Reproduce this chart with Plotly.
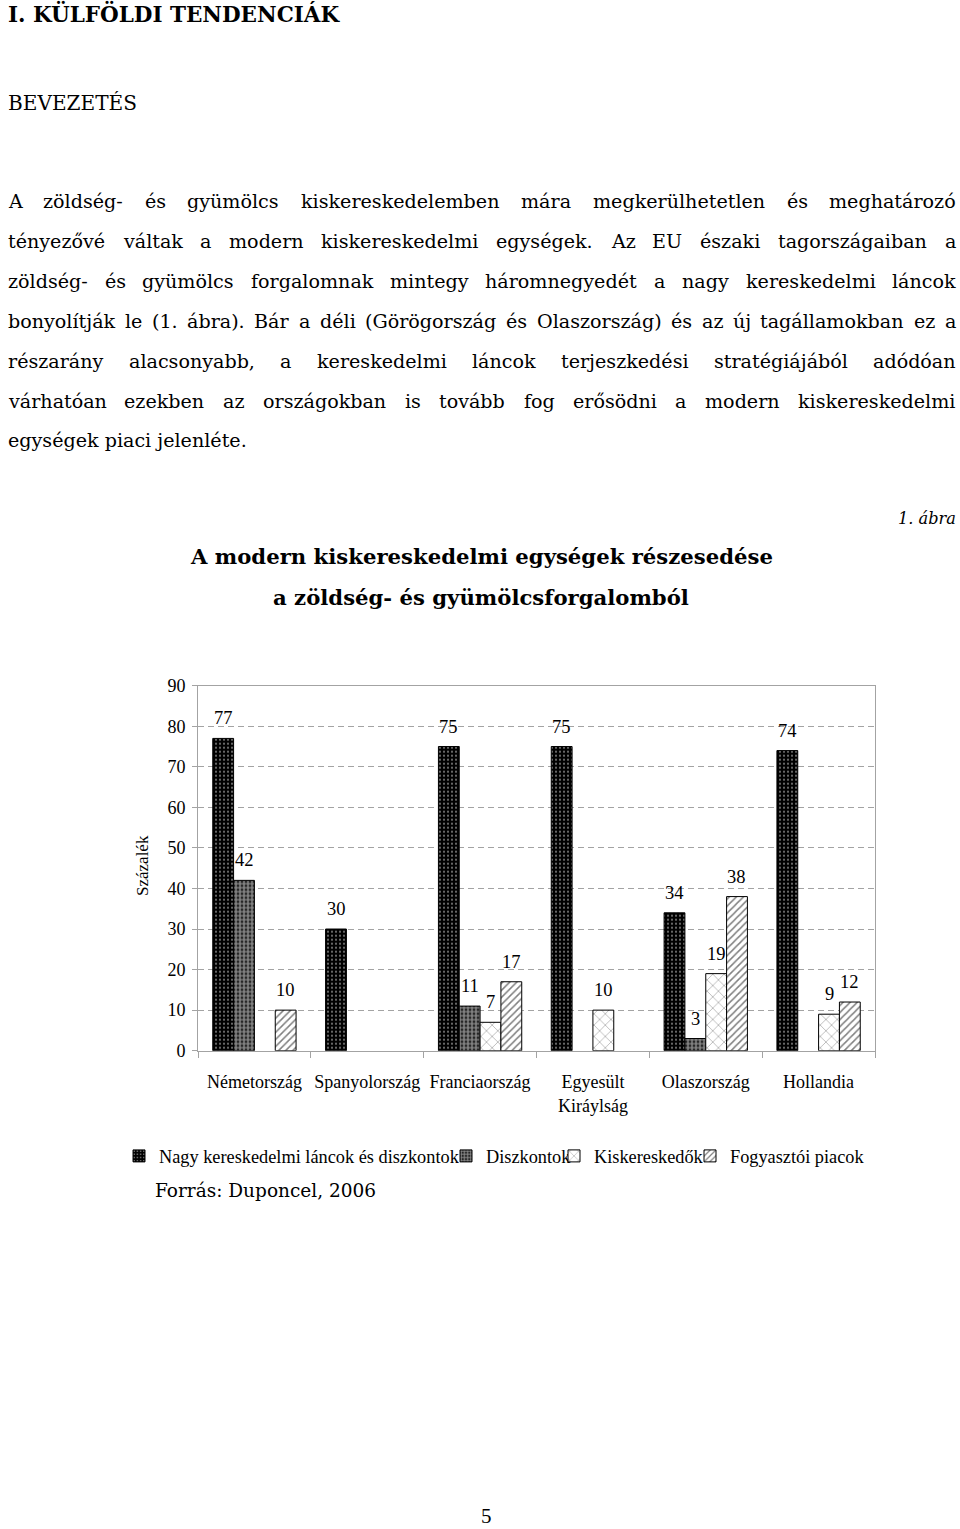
import os
import struct
import plotly.graph_objects as go

W, H = 960, 1529

# ---------------- data ----------------
categories = ["Németország", "Spanyolország", "Franciaország",
              "Egyesült<br>Kiráylság", "Olaszország", "Hollandia"]
series_names = ["Nagy kereskedelmi láncok és diszkontok", "Diszkontok",
                "Kiskereskedők", "Fogyasztói piacok"]
nagy_lancok = [77, 30, 75, 75, 34, 74]
diszkontok = [42, None, 11, None, 3, None]
kiskereskedok = [None, None, 7, 10, 19, 9]
fogyasztoi_piacok = [10, None, 17, None, 38, 12]
y_tick_values = [0, 10, 20, 30, 40, 50, 60, 70, 80, 90]

heading = "I. KÜLFÖLDI TENDENCIÁK"
subheading = "BEVEZETÉS"
body_lines = [
    "A zöldség- és gyümölcs kiskereskedelemben mára megkerülhetetlen és meghatározó",
    "tényezővé váltak a modern kiskereskedelmi egységek. Az EU északi tagországaiban a",
    "zöldség- és gyümölcs forgalomnak mintegy háromnegyedét a nagy kereskedelmi láncok",
    "bonyolítják le (1. ábra). Bár a déli (Görögország és Olaszország) és az új tagállamokban ez a",
    "részarány alacsonyabb, a kereskedelmi láncok terjeszkedési stratégiájából adódóan",
    "várhatóan ezekben az országokban is tovább fog erősödni a modern kiskereskedelmi",
    "egységek piaci jelenléte.",
]
justified = [True, True, True, True, True, True, False]
figure_no = "1. ábra"
chart_title = ["A modern kiskereskedelmi egységek részesedése",
               "a zöldség- és gyümölcsforgalomból"]
y_title = "Százalék"
source = "Forrás: Duponcel, 2006"
page_no = "5"


# ---------------- font metrics (for sizing / justification) ----------------
def find_font(fname):
    roots = ["/usr/share/fonts", "/usr/local/share/fonts",
             os.path.expanduser("~/.fonts"), os.path.expanduser("~/.local/share/fonts")]
    for root in roots:
        if not os.path.isdir(root):
            continue
        for dp, dn, fn in os.walk(root):
            if fname in fn:
                return os.path.join(dp, fname)
    return None


class Metric:
    def __init__(self, fname, fallback):
        self.fallback = fallback
        self.ok = False
        path = find_font(fname)
        if path:
            try:
                self._load(path)
                self.ok = True
            except Exception:
                self.ok = False

    def _load(self, path):
        data = open(path, "rb").read()
        n = struct.unpack(">H", data[4:6])[0]
        tabs = {}
        for i in range(n):
            tag, cs, off, ln = struct.unpack(">4sIII", data[12 + 16 * i:28 + 16 * i])
            tabs[tag.decode("latin-1")] = off
        head = tabs["head"]
        self.upm = struct.unpack(">H", data[head + 18:head + 20])[0]
        hhea = tabs["hhea"]
        self.nhm = struct.unpack(">H", data[hhea + 34:hhea + 36])[0]
        hmtx = tabs["hmtx"]
        self.adv = [struct.unpack(">H", data[hmtx + 4 * i:hmtx + 4 * i + 2])[0]
                    for i in range(self.nhm)]
        cmap = tabs["cmap"]
        nt = struct.unpack(">H", data[cmap + 2:cmap + 4])[0]
        sub = None
        for i in range(nt):
            pid, eid, off = struct.unpack(">HHI", data[cmap + 4 + 8 * i:cmap + 12 + 8 * i])
            if pid == 3 and eid == 1:
                sub = cmap + off
        fmt = struct.unpack(">H", data[sub:sub + 2])[0]
        if fmt != 4:
            raise ValueError("cmap")
        segx2 = struct.unpack(">H", data[sub + 6:sub + 8])[0]
        seg = segx2 // 2
        self.ends = struct.unpack(">%dH" % seg, data[sub + 14:sub + 14 + segx2])
        self.starts = struct.unpack(">%dH" % seg, data[sub + 16 + segx2:sub + 16 + 2 * segx2])
        self.deltas = struct.unpack(">%dh" % seg, data[sub + 16 + 2 * segx2:sub + 16 + 3 * segx2])
        self.rpos = sub + 16 + 3 * segx2
        self.roffs = struct.unpack(">%dH" % seg, data[self.rpos:self.rpos + segx2])
        self.data = data
        self.seg = seg

    def glyph(self, c):
        for i in range(self.seg):
            if self.ends[i] >= c:
                if self.starts[i] > c:
                    return 0
                if self.roffs[i] == 0:
                    return (c + self.deltas[i]) & 0xFFFF
                addr = self.rpos + 2 * i + self.roffs[i] + 2 * (c - self.starts[i])
                g = struct.unpack(">H", self.data[addr:addr + 2])[0]
                return (g + self.deltas[i]) & 0xFFFF if g else 0
        return 0

    def width(self, s, size):
        if not self.ok:
            return len(s) * self.fallback * size
        tot = 0
        for ch in s:
            g = self.glyph(ord(ch))
            tot += self.adv[min(g, self.nhm - 1)]
        return tot * size / self.upm

    def fit(self, s, target):
        return round(target / self.width(s, 1.0), 2)


serif = Metric("DejaVuSerif.ttf", 0.58)
serif_b = Metric("DejaVuSerif-Bold.ttf", 0.64)
serif_i = Metric("DejaVuSerif-Italic.ttf", 0.56)
times = Metric("LiberationSerif-Regular.ttf", 0.45)

SERIF = "DejaVu Serif"
TIMES = "Liberation Serif, Times New Roman, serif"

LEFT, RIGHT = 8, 956


def px(x):
    return x / W


def py(y):
    return 1 - y / H


def ann(text, x, y, size, family, xanchor="left", **kw):
    d = dict(text=text, x=px(x), y=py(y), xref="paper", yref="paper",
             xanchor=xanchor, yanchor="middle", showarrow=False,
             font=dict(size=size, family=family, color="black"),
             borderpad=0, borderwidth=0)
    d.update(kw)
    return d


annotations = []

# heading texts
annotations.append(ann("<b>" + heading + "</b>", LEFT, 13,
                       serif_b.fit(heading, 332), SERIF))
annotations.append(ann(subheading, LEFT, 103, serif.fit(subheading, 129), SERIF))

# body text, justified word by word
body_size = serif.fit(body_lines[-1], 239)
for line, just in zip(body_lines, justified):
    words = line.split(" ")
    if just and len(words) > 1:
        ww = sum(serif.width(w, body_size) for w in words)
        min_need = ww + 3 * (len(words) - 1)
        if min_need > RIGHT - LEFT:
            body_size = body_size * (RIGHT - LEFT) / min_need
line_y = [201, 241, 281, 321, 361, 401, 441]
for line, just, yy in zip(body_lines, justified, line_y):
    words = line.split(" ")
    if just and len(words) > 1:
        widths = [serif.width(w, body_size) for w in words]
        gap = (RIGHT - LEFT - sum(widths)) / (len(words) - 1)
        xpos = LEFT
        for w, wd in zip(words, widths):
            annotations.append(ann(w, xpos, yy, body_size, SERIF))
            xpos += wd + gap
    else:
        annotations.append(ann(line, LEFT, yy, body_size, SERIF))

# figure number and chart title
annotations.append(ann("<i>" + figure_no + "</i>", 956, 518,
                       serif_i.fit(figure_no, 58), SERIF, xanchor="right"))
title_size = serif_b.fit(chart_title[0], 582)
annotations.append(ann("<b>" + chart_title[0] + "</b>", 481, 556, title_size, SERIF, xanchor="center"))
annotations.append(ann("<b>" + chart_title[1] + "</b>", 481, 597, title_size, SERIF, xanchor="center"))

# y axis title
annotations.append(ann(y_title, 143, 866, 17, TIMES, xanchor="center", textangle=-90))

# source and page number
annotations.append(ann(source, 155, 1190, serif.fit(source, 222), SERIF))
annotations.append(ann(page_no, 486, 1516, 21, TIMES, xanchor="center"))

# ---------------- bars ----------------
series_values = [nagy_lancok, diszkontok, kiskereskedok, fogyasztoi_piacok]
patterns = [
    dict(shape=".", fgcolor="white", bgcolor="black", size=4, solidity=0.22),
    dict(shape=".", fgcolor="white", bgcolor="black", size=4, solidity=0.75),
    dict(shape="x", fgcolor="black", bgcolor="white", size=8, solidity=0.12),
    dict(shape="/", fgcolor="black", bgcolor="white", size=5, solidity=0.3),
]
legend_ids = ["legend", "legend2", "legend3", "legend4"]
bar_w = 0.1846
offsets = [-2 * bar_w, -bar_w, 0.0, bar_w]

fig = go.Figure()
for i, (name, vals) in enumerate(zip(series_names, series_values)):
    fig.add_trace(go.Bar(
        x=categories, y=vals, name=name,
        width=bar_w, offset=offsets[i],
        marker=dict(color=patterns[i]["bgcolor"],
                    line=dict(color="black", width=1),
                    pattern=patterns[i]),
        legend=legend_ids[i],
    ))
    for j, v in enumerate(vals):
        if v is None:
            continue
        annotations.append(dict(
            text=str(v), x=j + offsets[i] + bar_w / 2, y=v, xref="x", yref="y",
            xanchor="center", yanchor="middle", yshift=20, showarrow=False,
            font=dict(size=18.5, family=TIMES, color="black")))

legend_size = times.fit(series_names[0], 300)
legend_text_start = [159, 486, 594, 730]
legends = {}
for lid, xs in zip(legend_ids, legend_text_start):
    legends[lid] = dict(
        x=px(xs - 40), y=py(1156), xanchor="left", yanchor="middle",
        orientation="h", bgcolor="rgba(0,0,0,0)", borderwidth=0,
        font=dict(size=legend_size, family=TIMES, color="black"),
        itemwidth=30, tracegroupgap=0)

GRID = "#a3a3a3"
fig.update_layout(
    width=W, height=H, autosize=False,
    margin=dict(l=0, r=0, t=0, b=0, autoexpand=False),
    paper_bgcolor="white", plot_bgcolor="white",
    barmode="overlay",
    showlegend=True,
    annotations=annotations,
    xaxis=dict(
        domain=[px(198), px(875)], type="category",
        showline=True, mirror=True, linecolor=GRID, linewidth=1,
        ticks="outside", tickson="boundaries", ticklen=6, tickcolor=GRID,
        tickfont=dict(size=18, family=TIMES, color="black"),
        tickangle=0, automargin=False,
        ticklabelstandoff=15, showgrid=False,
    ),
    yaxis=dict(
        domain=[py(1050.7), py(685.7)], range=[0, 90],
        tickvals=y_tick_values,
        showline=True, mirror=True, linecolor=GRID, linewidth=1,
        ticks="outside", ticklen=5, tickcolor=GRID,
        tickfont=dict(size=18, family=TIMES, color="black"),
        ticklabelstandoff=3, automargin=False,
        showgrid=True, gridcolor=GRID, gridwidth=1, griddash="6px,4px",
        zeroline=False,
    ),
    **legends,
)

fig.write_html("out.html")
